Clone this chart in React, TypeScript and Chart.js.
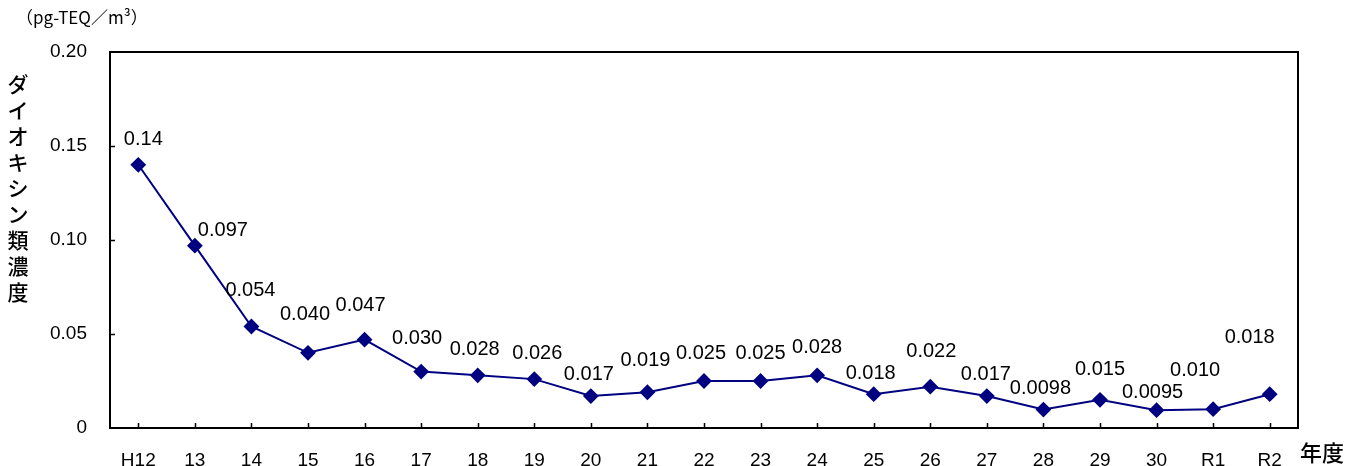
import React, { useEffect, useRef } from "react";
import Chart from "chart.js/auto";

const categories = ["H12","13","14","15","16","17","18","19","20","21","22","23","24","25","26","27","28","29","30","R1","R2"];
const values = [0.14,0.097,0.054,0.040,0.047,0.030,0.028,0.026,0.017,0.019,0.025,0.025,0.028,0.018,0.022,0.017,0.0098,0.015,0.0095,0.010,0.018];
const valueLabels = ["0.14","0.097","0.054","0.040","0.047","0.030","0.028","0.026","0.017","0.019","0.025","0.025","0.028","0.018","0.022","0.017","0.0098","0.015","0.0095","0.010","0.018"];
const labelDx = [5,28,-1,-3,-4,-4,-3,3,-2,-2,-3,0,0,-3,1,-1,-3,0,-4,-18,-20];
const labelDy = [-25,-15,-36,-38,-34,-33,-26,-26,-22,-32,-28,-28,-28,-21,-35,-22,-21,-30,-18,-39,-57];
const yTitle = "ダイオキシン類濃度";
const unitText = "（pg-TEQ／m³）";
const xTitle = "年度";

const NUM_FONT = "'Liberation Sans', Arial, sans-serif";
const JP_FONT = "'Noto Sans CJK JP', sans-serif";

const decorPlugin = {
  id: "decor",
  beforeDatasetsDraw(chart: any) {
    const { ctx, chartArea } = chart;
    const { left, right, top, bottom } = chartArea;
    const x = chart.scales.x;
    const y = chart.scales.y;
    ctx.save();
    ctx.strokeStyle = "#000";
    ctx.lineWidth = 2;
    ctx.strokeRect(left, top, right - left, bottom - top);
    ctx.lineWidth = 1.5;
    ctx.beginPath();
    for (let i = 0; i < categories.length; i++) {
      const px = Math.round(x.getPixelForValue(i)) + 0.5;
      ctx.moveTo(px, bottom);
      ctx.lineTo(px, bottom - 5);
    }
    y.ticks.forEach((t: any) => {
      if (t.value > 0 && t.value < 0.2) {
        const py = Math.round(y.getPixelForValue(t.value)) + 0.5;
        ctx.moveTo(left, py);
        ctx.lineTo(left + 5, py);
      }
    });
    ctx.stroke();
    ctx.restore();
  },
  afterDatasetsDraw(chart: any) {
    const { ctx } = chart;
    const meta = chart.getDatasetMeta(0);
    ctx.save();
    ctx.fillStyle = "#000";
    ctx.font = `20px ${NUM_FONT}`;
    ctx.textAlign = "center";
    ctx.textBaseline = "middle";
    meta.data.forEach((pt: any, i: number) => {
      ctx.fillText(valueLabels[i], pt.x + labelDx[i], pt.y + labelDy[i]);
    });
    // vertical y title
    ctx.font = `500 21px ${JP_FONT}`;
    const chars = Array.from(yTitle);
    chars.forEach((c, i) => {
      ctx.fillText(c, 18, 84 + i * 26);
    });
    // unit
    ctx.font = `17px ${JP_FONT}`;
    ctx.textAlign = "left";
    ctx.fillText(unitText, 16, 18);
    // x title
    ctx.font = `500 22px ${JP_FONT}`;
    ctx.fillText(xTitle, 1300, 453);
    ctx.restore();
  },
};

export default function App() {
  const ref = useRef<HTMLCanvasElement | null>(null);
  useEffect(() => {
    if (!ref.current) return;
    const chart = new Chart(ref.current, {
      type: "line",
      data: {
        labels: categories,
        datasets: [
          {
            data: values,
            borderColor: "#000080",
            backgroundColor: "#000080",
            borderWidth: 2,
            pointStyle: "rectRot",
            pointRadius: 6.5,
            pointBackgroundColor: "#000080",
            pointBorderColor: "#000080",
            tension: 0,
          },
        ],
      },
      options: {
        animation: false,
        responsive: false,
        maintainAspectRatio: false,
        layout: { padding: { top: 52, right: 61, left: 0, bottom: 0 } },
        plugins: { legend: { display: false }, tooltip: { enabled: false }, title: { display: false } },
        scales: {
          x: {
            type: "category",
            offset: true,
            grid: { display: false },
            border: { display: false },
            ticks: { color: "#000", font: { size: 19, family: NUM_FONT }, padding: 13, maxRotation: 0, autoSkip: false },
            afterFit: (s: any) => { s.height = 38; },
          },
          y: {
            min: 0,
            max: 0.2,
            grid: { display: false },
            border: { display: false },
            ticks: {
              stepSize: 0.05,
              color: "#000",
              font: { size: 19, family: NUM_FONT },
              padding: 15,
              callback: (v: any) => (Number(v) === 0 ? "0" : Number(v).toFixed(2)),
            },
            afterFit: (s: any) => { s.width = 110; },
          },
        },
      },
      plugins: [decorPlugin],
    } as any);
    return () => chart.destroy();
  }, []);
  return (
    <div style={{ position: "absolute", left: 0, top: 0, width: 1359, height: 466, background: "#fff" }}>
      <canvas ref={ref} width={1359} height={466} style={{ display: "block" }} />
    </div>
  );
}
